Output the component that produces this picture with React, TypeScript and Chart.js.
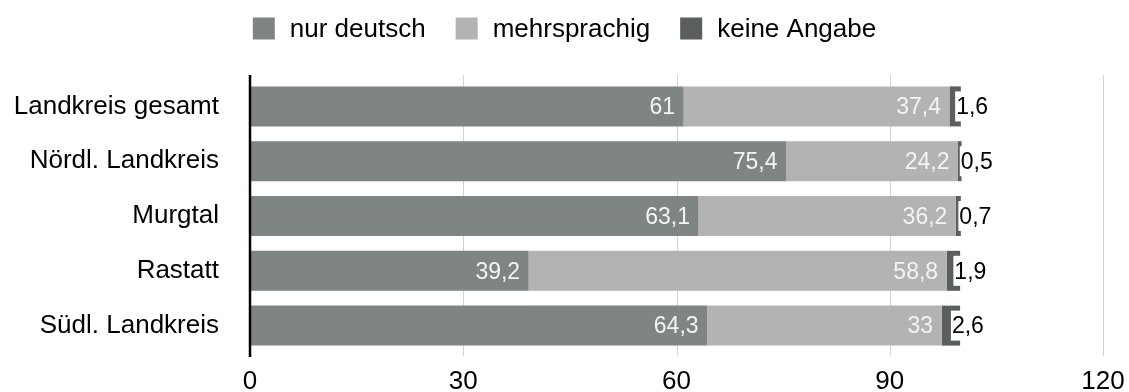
import { useEffect, useRef } from "react";
import { Chart, registerables } from "chart.js";

Chart.register(...registerables);

const categories = ["Landkreis gesamt", "Nördl. Landkreis", "Murgtal", "Rastatt", "Südl. Landkreis"];
const seriesNames = ["nur deutsch", "mehrsprachig", "keine Angabe"];
const nurDeutsch = [61, 75.4, 63.1, 39.2, 64.3];
const mehrsprachig = [37.4, 24.2, 36.2, 58.8, 33];
const keineAngabe = [1.6, 0.5, 0.7, 1.9, 2.6];
const xTicks = [0, 30, 60, 90, 120];
const seriesColors = ["#7f8582", "#b3b3b3", "#5a5e5c"];

const FONT = "Arial, 'Liberation Sans', Helvetica, sans-serif";
const fmt = (v: number) => String(v).replace(".", ",");

// Legend drawn across the top, centred on the canvas
const topLegend = {
  id: "topLegend",
  afterDraw(chart: any) {
    const ctx = chart.ctx;
    const box = 22;
    const gap = 15;
    const sep = 30;
    ctx.save();
    ctx.font = `26px ${FONT}`;
    const items = chart.data.datasets.map((ds: any) => ({
      label: ds.label as string,
      color: ds.backgroundColor as string,
      w: ctx.measureText(ds.label).width,
    }));
    const total =
      items.reduce((s: number, it: any) => s + box + gap + it.w, 0) + sep * (items.length - 1);
    let x = (chart.width - total) / 2;
    const cy = 28.5;
    ctx.textBaseline = "middle";
    ctx.textAlign = "left";
    items.forEach((it: any) => {
      ctx.fillStyle = it.color;
      ctx.fillRect(x, cy - box / 2, box, box);
      ctx.fillStyle = "#000";
      ctx.fillText(it.label, x + box + gap, cy + 1);
      x += box + gap + it.w + sep;
    });
    ctx.restore();
  },
};

// Vertical grid lines and the category axis line, slightly overshooting the plot area
const gridLines = {
  id: "gridLines",
  beforeDatasetsDraw(chart: any) {
    const ctx = chart.ctx;
    const xs = chart.scales.x;
    const { top, bottom } = chart.chartArea;
    ctx.save();
    ctx.strokeStyle = "#d3d3d3";
    ctx.lineWidth = 1;
    xs.ticks.forEach((t: any) => {
      if (t.value === 0) return;
      const px = Math.round(xs.getPixelForValue(t.value)) + 0.5;
      ctx.beginPath();
      ctx.moveTo(px, top - 4);
      ctx.lineTo(px, bottom + 3);
      ctx.stroke();
    });
    ctx.restore();
  },
  afterDatasetsDraw(chart: any) {
    const ctx = chart.ctx;
    const xs = chart.scales.x;
    const { top, bottom } = chart.chartArea;
    const px = xs.getPixelForValue(0);
    ctx.save();
    ctx.strokeStyle = "#000";
    ctx.lineWidth = 2.5;
    ctx.beginPath();
    ctx.moveTo(px, top - 4);
    ctx.lineTo(px, bottom + 4);
    ctx.stroke();
    ctx.restore();
  },
};

// Value labels: inside the bar end for the first two series, boxed beside the last one
const valueLabels = {
  id: "valueLabels",
  afterDatasetsDraw(chart: any) {
    const ctx = chart.ctx;
    ctx.save();
    ctx.font = `23px ${FONT}`;
    ctx.textBaseline = "middle";
    chart.data.datasets.forEach((ds: any, di: number) => {
      const meta = chart.getDatasetMeta(di);
      meta.data.forEach((bar: any, i: number) => {
        const v = ds.data[i] as number;
        const text = fmt(v);
        const y = bar.y + 1.5;
        if (di < 2) {
          ctx.textAlign = "right";
          ctx.fillStyle = "#f4f4f4";
          ctx.fillText(text, bar.x - 8.5, y);
        } else {
          const cx = (bar.x + bar.base) / 2;
          const w = ctx.measureText(text).width;
          ctx.fillStyle = "#ffffff";
          ctx.fillRect(cx, bar.y - 15, w + 3, 30);
          ctx.textAlign = "left";
          ctx.fillStyle = "#000";
          ctx.fillText(text, cx + 1, y);
        }
      });
    });
    ctx.restore();
  },
};

export default function App() {
  const canvasRef = useRef<HTMLCanvasElement | null>(null);

  useEffect(() => {
    const canvas = canvasRef.current;
    if (!canvas) return;
    const values = [nurDeutsch, mehrsprachig, keineAngabe];
    const chart = new Chart(canvas, {
      type: "bar",
      data: {
        labels: categories,
        datasets: seriesNames.map((name, i) => ({
          label: name,
          data: values[i],
          backgroundColor: seriesColors[i],
          borderWidth: 0,
          categoryPercentage: 1,
          barPercentage: 0.73,
        })),
      },
      options: {
        indexAxis: "y",
        responsive: false,
        animation: false,
        layout: { padding: { top: 79, right: 26, left: 0, bottom: 0 } },
        plugins: {
          legend: { display: false },
          tooltip: { enabled: false },
        },
        scales: {
          x: {
            stacked: true,
            min: 0,
            max: 120,
            afterBuildTicks: (scale: any) => {
              scale.ticks = xTicks.map((v) => ({ value: v }));
            },
            afterFit: (scale: any) => {
              scale.height = 39;
              scale.paddingLeft = 0;
              scale.paddingRight = 0;
            },
            grid: { display: false, drawTicks: false },
            border: { display: false },
            ticks: {
              color: "#000",
              padding: 13,
              font: { family: FONT, size: 26 },
              maxRotation: 0,
            },
          },
          y: {
            stacked: true,
            afterFit: (scale: any) => {
              scale.width = 250;
              scale.paddingTop = 0;
              scale.paddingBottom = 0;
            },
            grid: { display: false, drawTicks: false },
            border: { display: false },
            ticks: {
              color: "#000",
              padding: 31,
              font: { family: FONT, size: 26 },
            },
          },
        },
      },
      plugins: [gridLines, valueLabels, topLegend],
    } as any);
    return () => chart.destroy();
  }, []);

  return (
    <div style={{ position: "fixed", left: 0, top: 0, width: 1129, height: 392, background: "#fff" }}>
      <canvas ref={canvasRef} width={1129} height={392} />
    </div>
  );
}
